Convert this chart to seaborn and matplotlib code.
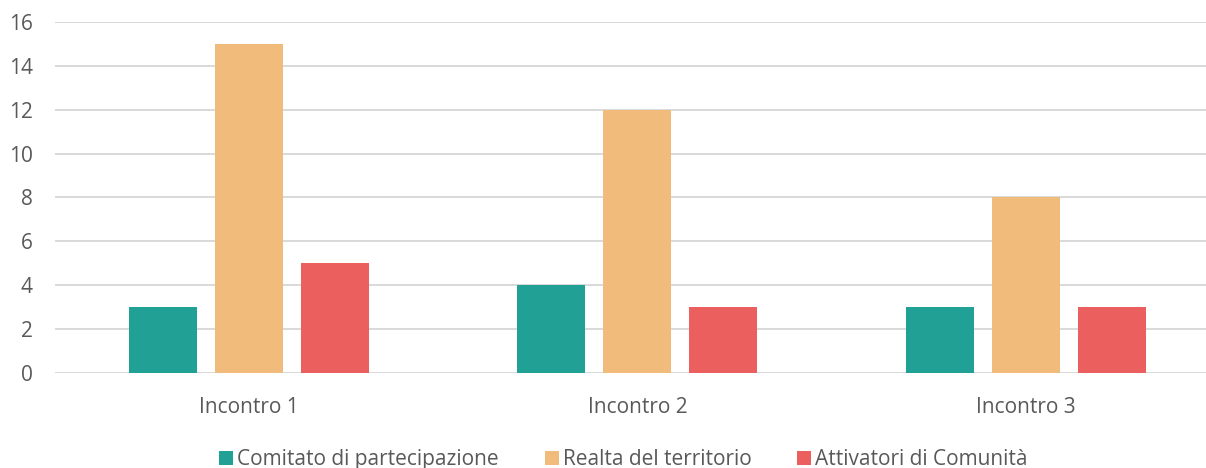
import matplotlib
matplotlib.use("Agg")
import matplotlib.pyplot as plt
import seaborn as sns
import pandas as pd

# ---------------------------------------------------
# Data
# ---------------------------------------------------

incontri = ["Incontro 1", "Incontro 2", "Incontro 3"]

serie = [
    "Comitato di partecipazione",
    "Realta del territorio",
    "Attivatori di Comunità"
]

comitato = [3, 4, 3]
realta = [15, 12, 8]
attivatori = [5, 3, 3]

colori = ["#21A195", "#F1BB7B", "#EB605E"]

df = pd.DataFrame({
    "incontro": incontri * 3,
    "serie": [serie[0]] * 3 + [serie[1]] * 3 + [serie[2]] * 3,
    "valore": comitato + realta + attivatori
})

# ---------------------------------------------------
# Chart
# ---------------------------------------------------

sns.set_style("white")
plt.rcParams["font.family"] = ["Open Sans", "DejaVu Sans"]

fig = plt.figure(figsize=(12.06, 4.68), dpi=100)
ax = fig.add_axes([0.0455, 0.203, 0.966, 0.750])

sns.barplot(
    data=df,
    x="incontro",
    y="valore",
    hue="serie",
    hue_order=serie,
    palette=colori,
    width=0.664,
    gap=0.21,
    saturation=1,
    linewidth=0,
    ax=ax,
    zorder=3
)

ax.set_ylim(0, 16)
ax.set_yticks(range(0, 17, 2))
ax.set_xlim(-0.5, 2.5)

ax.grid(axis="y", color="#D9D9D9", linewidth=1.4, zorder=0)
ax.set_axisbelow(True)

for s in ax.spines.values():
    s.set_visible(False)

ax.set_xlabel("")
ax.set_ylabel("")

ax.tick_params(axis="both", length=0, labelsize=15, colors="#595959")
ax.tick_params(axis="x", pad=17)
ax.tick_params(axis="y", pad=16)

handles, labels = ax.get_legend_handles_labels()
ax.legend_.remove()

fig.legend(
    handles,
    labels,
    loc="lower center",
    bbox_to_anchor=(0.517, -0.036),
    ncol=3,
    frameon=False,
    fontsize=15,
    handlelength=0.67,
    handleheight=0.67,
    handletextpad=0.2,
    columnspacing=2.2,
    borderpad=0.2,
    labelcolor="#595959"
)

plt.savefig("out.png", dpi=100)

plt.close()
